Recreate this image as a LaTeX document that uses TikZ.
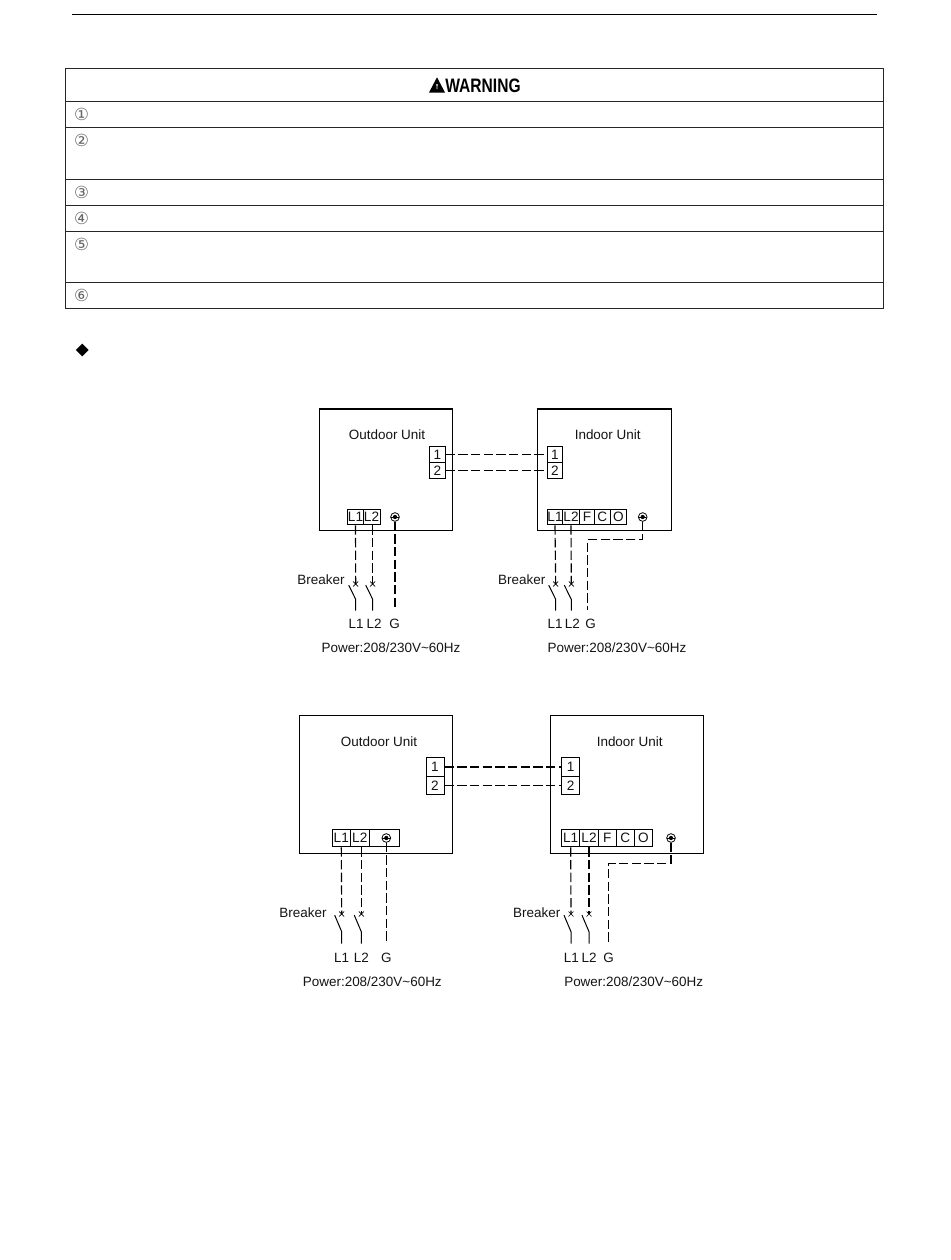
\documentclass[tikz,border=0pt]{standalone}
\usepackage{fontspec}
\setmainfont{Liberation Sans}
\newfontfamily\symfont{DejaVu Sans}
\usetikzlibrary{shapes.geometric}
\definecolor{inkgray}{gray}{0.08}
\tikzset{
unit/.style = { rectangle, draw = black, line width = 0.75pt, fill = white, inner sep = 0pt },
row/.style = { rectangle, draw = black!85, line width = 0.7pt, minimum width = 613.5pt, minimum height = #1*0.75pt, inner sep = 0pt },
term/.style args = {#1, #2}{ rectangle, draw = black, line width = 0.75pt, fill = white, text = inkgray, font = \fontsize{10.2}{12}\selectfont, minimum width = #1*0.75pt, minimum height = #2*0.75pt, inner sep = 0pt },
txt/.style = { text = inkgray, font = \fontsize{10.1}{12}\selectfont, inner sep = 0pt },
num/.style = { text = black!60, font = \symfont\fontsize{12.5}{13}\selectfont, inner sep = 0pt },
earth/.style = { circle, draw = black, line width = 0.6pt, fill = white, minimum size = 6.5pt, inner sep = 0pt, path picture = { \fill[black] (path picture bounding box.center) circle (1.6pt); \draw[line width = 0.4pt] (path picture bounding box.west) -- (path picture bounding box.east); } },
wire/.style = { draw = black, line width = 0.85pt, dash pattern = on 7pt off 2.5pt },
}
\tikzset{
pics/breaker/.style args={#1, #2}{
        code = {
        \coordinate (-top) at (0, 0);
        \path[draw = black, line width = 0.5pt] (-2.5, -2.5) -- (2.5, 2.5) (-2.5, 2.5) -- (2.5, -2.5);
        \path[draw = black, line width = 0.75pt] (-7, 1.2) -- (0, #1) -- (0, #2);
        }
    }
}
\begin{document}
\begin{tikzpicture}[x = 0.75pt, y = -0.75pt]
    \useasboundingbox (0, 0) rectangle (950, 1260);
    \coordinate (ruleL) at (72, 14.5);
    \coordinate (ruleR) at (877, 14.5);
    \path[draw = black, line width = 0.7pt] (ruleL) -- (ruleR);
    % warning table
    \node[row = 33] (rowH) at (474.8, 85) {};
    \node[row = 26] (row1) at (474.8, 114.5) {};
    \node[row = 51.5] (row2) at (474.8, 153.25) {};
    \node[row = 26] (row3) at (474.8, 192) {};
    \node[row = 26] (row4) at (474.8, 218) {};
    \node[row = 51.5] (row5) at (474.8, 256.75) {};
    \node[row = 26] (row6) at (474.8, 295.7) {};
    \path[fill = black] (429, 92.5) -- (437, 77.3) -- (445, 92.5) -- cycle;
    \path[fill = white] (436.4, 84) -- (437.6, 84) -- (437.3, 89) -- (436.7, 89) -- cycle;
    \node[xscale = 0.8, font = \bfseries\fontsize{14.6}{16}\selectfont, inner sep = 0pt] (warn) at (483, 85.5) {WARNING};
    \node[num] (n1) at (81.7, 114) {①};
    \node[num] (n2) at (81.7, 140) {②};
    \node[num] (n3) at (81.7, 192) {③};
    \node[num] (n4) at (81.7, 218) {④};
    \node[num] (n5) at (81.7, 244) {⑤};
    \node[num] (n6) at (81.7, 295) {⑥};
    \node[diamond, fill = black, minimum size = 9.75pt, inner sep = 0pt] (mark) at (82.3, 350) {};
    % first pair of units
    \node[unit, minimum width = 100.2pt, minimum height = 90.75pt] (outA) at (386, 469.5) {};
    \node[unit, minimum width = 100.2pt, minimum height = 90.75pt] (inA) at (604.2, 469.5) {};
    \path[draw = black, line width = 1.3pt] (outA.north west) -- (outA.north east);
    \path[draw = black, line width = 1.3pt] (inA.north west) -- (inA.north east);
    \node[txt] (outAname) at (387, 435) {Outdoor Unit};
    \node[txt] (inAname) at (607.7, 435) {Indoor Unit};
    \node[term = {15.5, 16}] (outA1) at (437.3, 454.7) {1};
    \node[term = {15.5, 16}] (outA2) at (437.3, 470.7) {2};
    \node[term = {15.5, 16}] (inA1) at (554.9, 454.7) {1};
    \node[term = {15.5, 16}] (inA2) at (554.9, 470.7) {2};
    \draw[wire] (outA1.east) -- (inA1.west);
    \draw[wire] (outA2.east) -- (inA2.west);
    \node[term = {15.5, 15.5}] (outAL1) at (355.5, 517) {L1};
    \node[term = {17, 15.5}] (outAL2) at (371.5, 517) {L2};
    \node[earth] (outAG) at (395, 517) {};
    \node[term = {15.5, 15.5}] (inAL1) at (555, 517) {L1};
    \node[term = {16.5, 15.5}] (inAL2) at (571, 517) {L2};
    \node[term = {15.5, 15.5}] (inAF) at (587, 517) {F};
    \node[term = {15.5, 15.5}] (inAC) at (602.4, 517) {C};
    \node[term = {16.5, 15.5}] (inAO) at (618.4, 517) {O};
    \node[earth] (inAG) at (642.7, 517) {};
    \draw pic (outAb1) at (355.7, 584) {breaker = {15.3, 26.7}};
    \draw pic (outAb2) at (372.7, 584) {breaker = {15.3, 26.7}};
    \draw pic (inAb1) at (555.7, 584) {breaker = {15.3, 26.7}};
    \draw pic (inAb2) at (571.3, 584) {breaker = {15.3, 26.7}};
    \draw[wire] (outAL1.south) -- (outAb1-top);
    \draw[wire] (outAL2.south -| outAb2-top) -- (outAb2-top);
    \draw[wire] (inAL1.south) -- (inAb1-top);
    \draw[wire] (inAL2.south) -- (inAb2-top);
    \coordinate (outAGend) at (395, 610);
    \coordinate (inAGturn) at (587.7, 539.7);
    \coordinate (inAGend) at (587.7, 610);
    \draw[wire] (outAG.south) -- (outAGend);
    \draw[wire] (inAG.south) |- (inAGturn) -- (inAGend);
    \node[txt] (outAbrk) at (321, 580) {Breaker};
    \node[txt] (inAbrk) at (521.7, 580) {Breaker};
    \node[txt] (outAtL1) at (356, 623.7) {L1};
    \node[txt] (outAtL2) at (374, 623.7) {L2};
    \node[txt] (outAtG) at (394.7, 623.7) {G};
    \node[txt] (inAtL1) at (555, 623.7) {L1};
    \node[txt] (inAtL2) at (572.3, 623.7) {L2};
    \node[txt] (inAtG) at (590.7, 623.7) {G};
    \node[txt] (outApow) at (391, 648) {Power:208/230V\textasciitilde60Hz};
    \node[txt] (inApow) at (617, 648) {Power:208/230V\textasciitilde60Hz};
    % second pair of units
    \node[unit, minimum width = 115pt, minimum height = 103.5pt] (outB) at (376, 784.3) {};
    \node[unit, minimum width = 115pt, minimum height = 103.5pt] (inB) at (627, 784.3) {};
    \node[txt] (outBname) at (379, 741.7) {Outdoor Unit};
    \node[txt] (inBname) at (629.7, 741.7) {Indoor Unit};
    \node[term = {18, 18.3}] (outB1) at (435, 767) {1};
    \node[term = {18, 18.3}] (outB2) at (435, 785.3) {2};
    \node[term = {18, 18.3}] (inB1) at (570.7, 767) {1};
    \node[term = {18, 18.3}] (inB2) at (570.7, 785.3) {2};
    \draw[wire] (outB1.east) -- (inB1.west);
    \draw[wire] (outB2.east) -- (inB2.west);
    \node[term = {18, 17.7}] (outBL1) at (341.3, 838) {L1};
    \node[term = {19, 17.7}] (outBL2) at (359.8, 838) {L2};
    \node[term = {30, 17.7}] (outBGbox) at (384.3, 838) {};
    \node[earth] (outBG) at (386.3, 838) {};
    \node[term = {18, 17.7}] (inBL1) at (570.7, 838) {L1};
    \node[term = {18.6, 17.7}] (inBL2) at (589, 838) {L2};
    \node[term = {18, 17.7}] (inBF) at (607.3, 838) {F};
    \node[term = {18, 17.7}] (inBC) at (625.3, 838) {C};
    \node[term = {18.4, 17.7}] (inBO) at (643.5, 838) {O};
    \node[earth] (inBG) at (671, 838) {};
    \draw pic (outBb1) at (341.7, 914) {breaker = {17.7, 29.7}};
    \draw pic (outBb2) at (361.3, 914) {breaker = {17.7, 29.7}};
    \draw pic (inBb1) at (571, 914) {breaker = {17.7, 29.7}};
    \draw pic (inBb2) at (589, 914) {breaker = {17.7, 29.7}};
    \draw[wire] (outBL1.south) -- (outBb1-top);
    \draw[wire] (outBL2.south -| outBb2-top) -- (outBb2-top);
    \draw[wire] (inBL1.south) -- (inBb1-top);
    \draw[wire] (inBL2.south) -- (inBb2-top);
    \coordinate (outBGend) at (386.3, 943.7);
    \coordinate (inBGturn) at (608.7, 863.3);
    \coordinate (inBGend) at (608.7, 943.7);
    \draw[wire] (outBG.south) -- (outBGend);
    \draw[wire] (inBG.south) |- (inBGturn) -- (inBGend);
    \node[txt] (outBbrk) at (303, 912.7) {Breaker};
    \node[txt] (inBbrk) at (536.7, 913) {Breaker};
    \node[txt] (outBtL1) at (341.7, 957.7) {L1};
    \node[txt] (outBtL2) at (361.3, 957.7) {L2};
    \node[txt] (outBtG) at (386.3, 957.7) {G};
    \node[txt] (inBtL1) at (571.3, 957.7) {L1};
    \node[txt] (inBtL2) at (589, 957.7) {L2};
    \node[txt] (inBtG) at (608.7, 957.7) {G};
    \node[txt] (outBpow) at (372.3, 981.3) {Power:208/230V\textasciitilde60Hz};
    \node[txt] (inBpow) at (633.7, 981.3) {Power:208/230V\textasciitilde60Hz};
\end{tikzpicture}
\end{document}
